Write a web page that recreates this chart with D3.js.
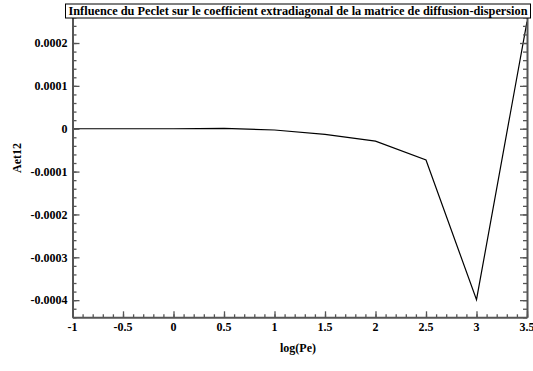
<!DOCTYPE html>
<html>
<head>
<meta charset="utf-8">
<script src="https://cdn.jsdelivr.net/npm/d3@7"></script>
<style>
  body { margin: 0; background: #fff; }
  svg { display: block; }
</style>
</head>
<body>
<svg id="chart"></svg>
<script>
const logPe = [-1, -0.5, 0, 0.5, 1, 1.5, 2, 2.5, 3, 3.5];
const aet12 = [0, 0, 0, 0.000001, -0.000003, -0.000013, -0.000029, -0.000073, -0.000399, 0.00025];
const xTicks = [-1, -0.5, 0, 0.5, 1, 1.5, 2, 2.5, 3, 3.5];
const yTicks = [-0.0004, -0.0003, -0.0002, -0.0001, 0, 0.0001, 0.0002];
const title = "Influence du Peclet sur le coefficient extradiagonal de la matrice de diffusion-dispersion";

const width = 533, height = 371;
const margin = {top: 17.3, right: 6, bottom: 53.7, left: 72.5};
const axisColor = "#555";
const font = "'Liberation Serif', 'DejaVu Serif', serif";

const svg = d3.select("#chart").attr("width", width).attr("height", height);

const x = d3.scaleLinear().domain([-1, 3.5]).range([margin.left, width - margin.right]);
const y = d3.scaleLinear().domain([-0.00044, 0.00026]).range([height - margin.bottom, margin.top]);

const xMinor = d3.range(-1, 3.5001, 0.1).map(v => +v.toFixed(2));
const yMinor = d3.range(-0.00044, 0.000261, 0.00002).map(v => +v.toFixed(6));

// the data line
const line = d3.line().x((d, i) => x(logPe[i])).y(d => y(d));
svg.append("path")
  .datum(aet12)
  .attr("d", line)
  .attr("fill", "none")
  .attr("stroke", "#000")
  .attr("stroke-width", 1.2);

// left axis, ticks pointing inward
svg.append("g").attr("transform", `translate(${x.range()[0]},0)`)
  .call(d3.axisRight(y).tickValues(yMinor).tickSize(4).tickFormat(""))
  .call(g => g.selectAll("path").remove());
svg.append("g").attr("transform", `translate(${x.range()[0]},0)`)
  .call(d3.axisRight(y).tickValues(yTicks).tickSize(7).tickFormat("").tickSizeOuter(0));

// right axis
svg.append("g").attr("transform", `translate(${x.range()[1]},0)`)
  .call(d3.axisLeft(y).tickValues(yMinor).tickSize(4).tickFormat(""))
  .call(g => g.selectAll("path").remove());
svg.append("g").attr("transform", `translate(${x.range()[1]},0)`)
  .call(d3.axisLeft(y).tickValues(yTicks).tickSize(7).tickFormat("").tickSizeOuter(0));

// bottom axis
svg.append("g").attr("transform", `translate(0,${y.range()[0]})`)
  .call(d3.axisTop(x).tickValues(xMinor).tickSize(3).tickFormat(""))
  .call(g => g.selectAll("path").remove());
svg.append("g").attr("transform", `translate(0,${y.range()[0]})`)
  .call(d3.axisTop(x).tickValues(xTicks).tickSize(6).tickFormat("").tickSizeOuter(0));

svg.selectAll(".domain").attr("stroke", axisColor).attr("stroke-width", 2);
svg.selectAll(".tick line").attr("stroke", axisColor).attr("stroke-width", 1.3);

// tick labels
svg.append("g").selectAll("text")
  .data(yTicks)
  .join("text")
  .attr("x", x.range()[0] - 5)
  .attr("y", d => y(d))
  .attr("dy", "0.35em")
  .attr("text-anchor", "end")
  .attr("font-family", font).attr("font-weight", "bold")
  .attr("font-size", 12)
  .text(d => d === 0 ? "0" : d3.format(".4f")(d).replace("−", "-"));

svg.append("g").selectAll("text")
  .data(xTicks)
  .join("text")
  .attr("x", d => x(d))
  .attr("y", y.range()[0] + 14)
  .attr("text-anchor", "middle")
  .attr("font-family", font).attr("font-weight", "bold")
  .attr("font-size", 12)
  .text(d => String(d));

// axis titles
svg.append("text")
  .attr("x", 298).attr("y", 352)
  .attr("text-anchor", "middle")
  .attr("font-family", font).attr("font-weight", "bold")
  .attr("font-size", 12)
  .text("log(Pe)");

svg.append("text")
  .attr("transform", "translate(21,158) rotate(-90)")
  .attr("text-anchor", "middle")
  .attr("font-family", font).attr("font-weight", "bold")
  .attr("font-size", 12)
  .text("Aet12");

// title box
svg.append("rect")
  .attr("x", 65.5).attr("y", 4)
  .attr("width", 465).attr("height", 14)
  .attr("fill", "#fff")
  .attr("stroke", "#000")
  .attr("stroke-width", 1);
const t = svg.append("text")
  .attr("x", 298).attr("y", 14.5)
  .attr("text-anchor", "middle")
  .attr("font-family", font).attr("font-weight", "bold")
  .attr("font-size", 12)
  .text(title);
const tl = t.node().getComputedTextLength();
if (Math.abs(tl - 459) > 4) t.attr("textLength", 459).attr("lengthAdjust", "spacingAndGlyphs");
</script>
</body>
</html>
